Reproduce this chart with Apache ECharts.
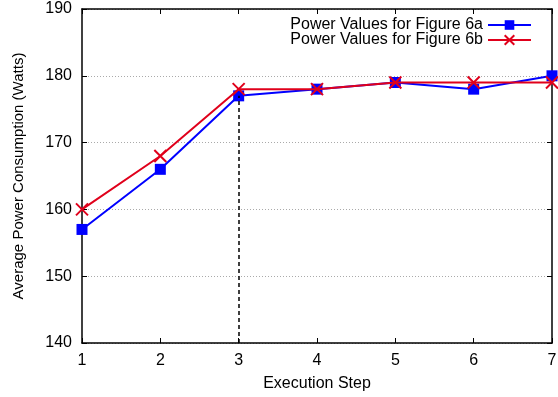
<!DOCTYPE html>
<html>
<head>
<meta charset="utf-8">
<script src="https://cdn.jsdelivr.net/npm/echarts@6/dist/echarts.min.js"></script>
<style>
  html, body { margin: 0; padding: 0; background: #fff; }
  #chart { width: 558px; height: 397px; }
</style>
</head>
<body>
<div id="chart"></div>
<script>
var steps = [1, 2, 3, 4, 5, 6, 7];
var power6a = [157, 166, 177, 178, 179, 178, 180];
var power6b = [160, 168, 178, 178, 179, 179, 179];
var markStep = 3;

var chartDom = document.getElementById('chart');
var myChart = echarts.init(chartDom);

function pairs(xs, ys) {
  return xs.map(function (x, i) { return [x, ys[i]]; });
}

var font = 'Liberation Sans, Arial, sans-serif';
var crossPath = 'path://M0,0L10,10M10,0L0,10';

var option = {
  animation: false,
  textStyle: { fontFamily: font },
  grid: { left: 82, right: 6, top: 9, bottom: 54, outerBoundsMode: 'none' },
  legend: {
    right: 21,
    top: 12,
    orient: 'vertical',
    align: 'right',
    itemWidth: 43,
    itemHeight: 12,
    itemGap: -1,
    textStyle: { fontSize: 16, color: '#000', fontFamily: font },
    data: ['Power Values for Figure 6a', 'Power Values for Figure 6b']
  },
  xAxis: [
    {
      type: 'value', min: 1, max: 7, interval: 1,
      name: 'Execution Step', nameLocation: 'middle', nameGap: 33,
      nameTextStyle: { fontSize: 16, color: '#000' },
      axisLine: { lineStyle: { color: '#000', width: 1.5 } },
      axisTick: { inside: true, length: 5, lineStyle: { color: '#000' } },
      axisLabel: { fontSize: 16, color: '#000', margin: 10 },
      splitLine: { show: false }
    },
    {
      type: 'value', position: 'top', min: 1, max: 7, interval: 1,
      axisLine: { show: true, lineStyle: { color: '#000', width: 1.5 } },
      axisTick: { inside: true, length: 5, lineStyle: { color: '#000' } },
      axisLabel: { show: false },
      splitLine: { show: false }
    }
  ],
  yAxis: [
    {
      type: 'value', min: 140, max: 190, interval: 10,
      name: 'Average Power Consumption (Watts)', nameLocation: 'middle', nameGap: 56,
      nameTextStyle: { fontSize: 15, color: '#000' },
      axisLine: { show: true, lineStyle: { color: '#000', width: 1.5 } },
      axisTick: { show: true, inside: true, length: 5, lineStyle: { color: '#000' } },
      axisLabel: { fontSize: 16, color: '#000', margin: 10 },
      splitLine: { show: true, lineStyle: { color: '#aaa', type: [1, 2], width: 1 } }
    },
    {
      type: 'value', position: 'right', min: 140, max: 190, interval: 10,
      axisLine: { show: true, lineStyle: { color: '#000', width: 1.5 } },
      axisTick: { show: true, inside: true, length: 5, lineStyle: { color: '#000' } },
      axisLabel: { show: false },
      splitLine: { show: false }
    }
  ],
  series: [
    {
      name: 'Power Values for Figure 6a',
      type: 'line',
      data: pairs(steps, power6a),
      symbol: 'rect',
      symbolSize: 11,
      lineStyle: { color: '#0000ff', width: 2 },
      itemStyle: { color: '#0000ff' },
      z: 2,
      markLine: {
        silent: true,
        symbol: 'none',
        label: { show: false },
        lineStyle: { color: '#000', type: [4, 3], width: 1.5 },
        data: [[{ coord: [markStep, 140] }, { coord: [markStep, power6a[markStep - 1]] }]]
      }
    },
    {
      name: 'Power Values for Figure 6b',
      type: 'line',
      data: pairs(steps, power6b),
      symbol: crossPath,
      symbolSize: 12,
      lineStyle: { color: '#e0001b', width: 2 },
      itemStyle: { color: '#e0001b', borderColor: '#e0001b', borderWidth: 2 },
      z: 3
    }
  ]
};

option && myChart.setOption(option);
</script>
</body>
</html>
